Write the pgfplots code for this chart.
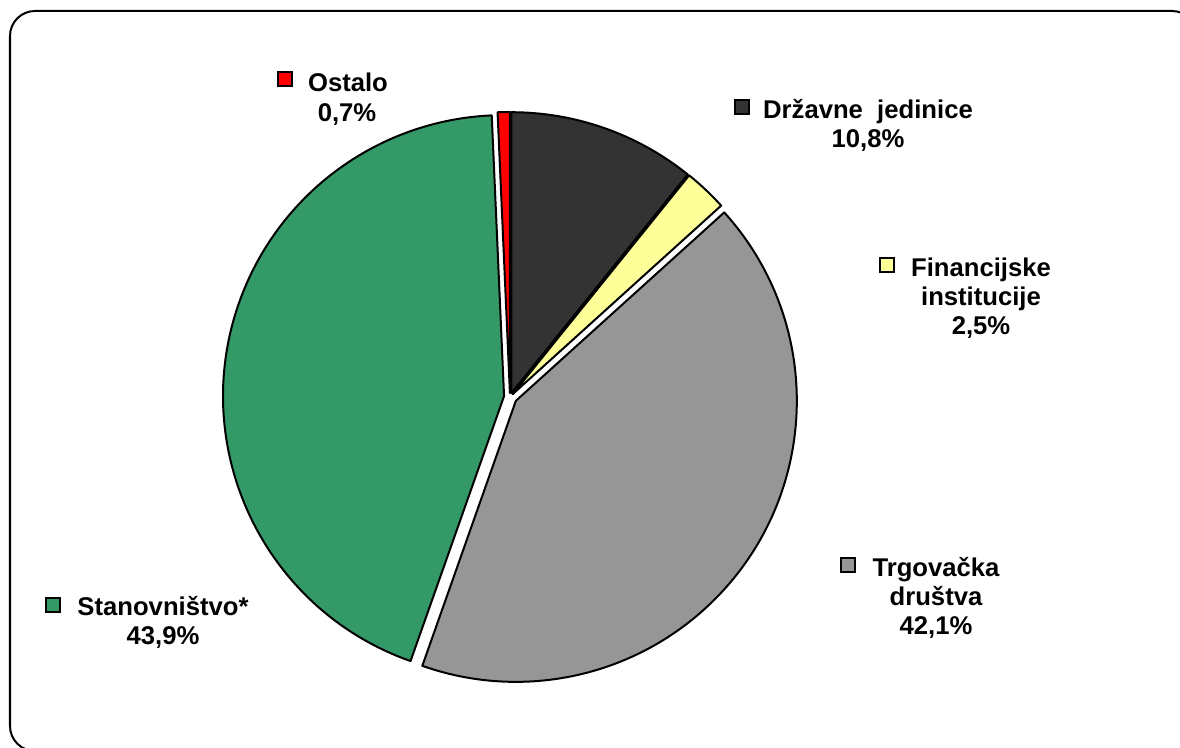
\documentclass[border=0pt]{standalone}
\usepackage{pgfplots}
\pgfplotsset{compat=1.18}
\usepackage{fontspec}
\setmainfont{Liberation Sans}
\definecolor{cDrz}{HTML}{333333}
\definecolor{cFin}{HTML}{FFFF99}
\definecolor{cTrg}{HTML}{969696}
\definecolor{cSta}{HTML}{339966}
\definecolor{cOst}{HTML}{FF0000}
\tikzset{lbl/.style={font=\fontsize{7.3pt}{8.25pt}\selectfont\bfseries, inner sep=0pt, anchor=base}}
% pie centre and radius (axis units = px)
\def\pcx{510}
\def\pcy{397}
\def\prad{2.81cm}
\def\cum{0}
% \slice{value in percent}{colour}{explode offset}
\newcommand{\slice}[3]{%
  \pgfmathsetmacro\slA{90-3.6*\cum}%
  \pgfmathsetmacro\newcum{\cum+#1}%
  \xdef\cum{\newcum}%
  \pgfmathsetmacro\slB{90-3.6*\cum}%
  \pgfmathsetmacro\slM{(\slA+\slB)/2}%
  \pgfmathsetmacro\slX{\pcx+#3*cos(\slM)}%
  \pgfmathsetmacro\slY{\pcy-#3*sin(\slM)}%
  \edef\sltmp{\noexpand\filldraw[fill=#2,draw=black,line width=0.02cm,line join=round]
    (axis cs:\slX,\slY) -- ++(\slA:\prad) arc[start angle=\slA,end angle=\slB,radius=\prad] -- cycle;}%
  \sltmp
}
\newcommand{\key}[3]{% x, y (top-left), colour
  \pgfmathsetmacro\kX{#1+14}%
  \pgfmathsetmacro\kY{#2+14}%
  \edef\ktmp{\noexpand\filldraw[fill=#3,draw=black,line width=0.015cm] (axis cs:#1,#2) rectangle (axis cs:\kX,\kY);}%
  \ktmp
}
\begin{document}
\begin{tikzpicture}
\begin{axis}[
  scale only axis, width=11.8cm, height=7.48cm,
  xmin=0, xmax=1180, ymin=0, ymax=748, y dir=reverse,
  hide axis, clip=false,
]
% frame
\draw[line width=0.02cm, rounded corners=0.25cm] (axis cs:10,11) rectangle (axis cs:1197,751);
% slices, clockwise from 12 o'clock
\slice{10.8}{cDrz}{4}
\slice{2.5}{cFin}{4}
\slice{42.1}{cTrg}{7}
\slice{43.9}{cSta}{6}
\slice{0.7}{cOst}{4}
% labels
\key{735}{100}{cDrz}
\node[lbl] at (axis cs:868,119) {Državne\ \ jedinice};
\node[lbl] at (axis cs:868,148) {10,8\%};
\key{880}{258}{cFin}
\node[lbl] at (axis cs:981,277) {Financijske};
\node[lbl] at (axis cs:981,306) {institucije};
\node[lbl] at (axis cs:981,335) {2,5\%};
\key{841}{558}{cTrg}
\node[lbl] at (axis cs:936,577) {Trgovačka};
\node[lbl] at (axis cs:936,606) {društva};
\node[lbl] at (axis cs:936,635) {42,1\%};
\key{46}{598}{cSta}
\node[lbl] at (axis cs:163,616) {Stanovništvo*};
\node[lbl] at (axis cs:163,645) {43,9\%};
\key{278}{72}{cOst}
\node[lbl] at (axis cs:348,92) {Ostalo};
\node[lbl] at (axis cs:347,122) {0,7\%};
\end{axis}
\pgfresetboundingbox
\path (current axis.south west) rectangle (current axis.north east);
\end{tikzpicture}
\end{document}
